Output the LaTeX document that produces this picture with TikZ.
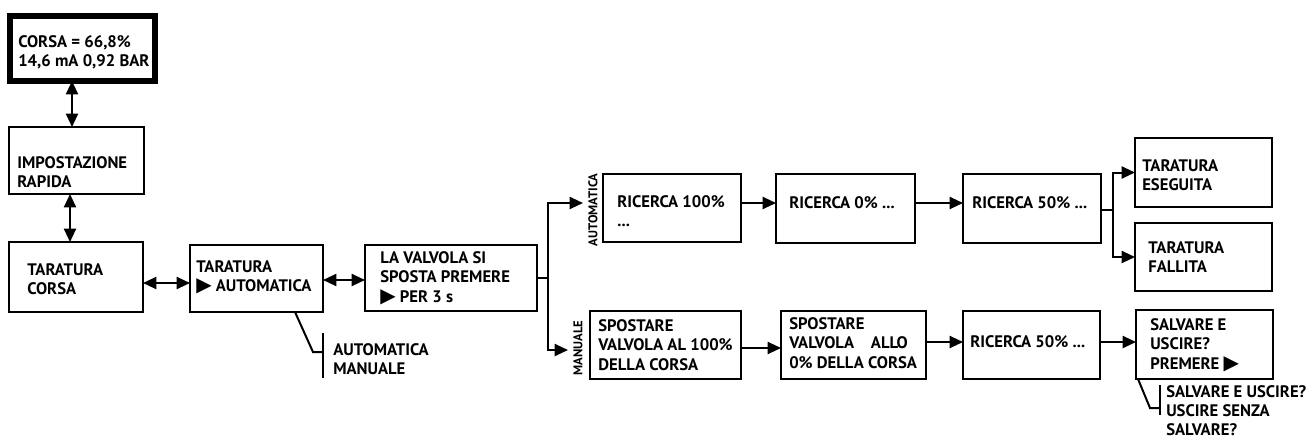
\documentclass[tikz,border=0pt]{standalone}
\usepackage{fontspec}
\setmainfont{PT Sans}
\newfontfamily\symf{DejaVu Sans}
\usetikzlibrary{arrows.meta}
\newcommand\tri{{\symf\fontsize{15}{14.8}\selectfont ▶}}
\newcommand\mkbox[6][]{\node[box,#1,anchor=north west,minimum width={(#5-#3)*0.75pt},minimum height={(#6-#4)*0.75pt}] (#2) at (#3,#4) {};}
\tikzset{
 box/.style={draw, line width=1.5pt, inner sep=0pt, outer sep=0pt},
 thickbox/.style={line width=3.8pt},
 txt/.style={font=\bfseries\fontsize{12.5}{14.6}\selectfont, align=left, inner sep=0pt, anchor=north west},
 vlab/.style={font=\bfseries\fontsize{9.5}{10}\selectfont, rotate=90, inner sep=0pt},
 ln/.style={line width=1.5pt},
 arr/.style={line width=1.5pt, -{Triangle[length=10pt,width=9pt]}},
 darr/.style={line width=1.5pt, {Triangle[length=10pt,width=9pt]}-{Triangle[length=10pt,width=9pt]}},
}
\begin{document}
\begin{tikzpicture}[x=0.75pt,y=-0.75pt]
\useasboundingbox (0,0) rectangle (1312,439);
% boxes
\mkbox[thickbox]{b1}{10}{16}{155}{81}
\mkbox{b2}{9}{127}{144}{194}
\mkbox{b3}{9}{242}{143}{312}
\mkbox{b4}{190}{245}{323}{312}
\mkbox{b5}{365}{245}{537}{311}
\mkbox{a1}{603}{174}{741}{242}
\mkbox{a2}{776}{174}{915}{243}
\mkbox{a3}{963}{174}{1101}{243}
\mkbox{e}{1135}{138}{1272}{207}
\mkbox{f}{1135}{223}{1272}{291}
\mkbox{m1}{590}{311}{741}{379}
\mkbox{m2}{781}{311}{926}{379}
\mkbox{m3}{963}{311}{1100}{379}
\mkbox{m4}{1136}{310}{1273}{379}
% texts
\node[txt] (tb1) at (18,35) {CORSA = 66,8\%\\14,6 mA 0,92 BAR};
\node[txt] (tb2) at (17,156) {IMPOSTAZIONE\\RAPIDA};
\node[txt] (tb3) at (27,263) {TARATURA\\CORSA};
\node[txt] (tb4) at (196,260) {TARATURA\\\tri\ AUTOMATICA};
\node[txt] (tb5) at (380,251) {LA VALVOLA SI\\SPOSTA PREMERE\\\tri\ PER 3 s};
\node[txt] (tc4) at (333,343) {AUTOMATICA\\MANUALE};
\node[txt] (ta1) at (617,195) {RICERCA 100\%\\...};
\node[txt] (ta2) at (789,196) {RICERCA 0\% ...};
\node[txt] (ta3) at (972,196) {RICERCA 50\% ...};
\node[txt] (te) at (1142,159) {TARATURA\\ESEGUITA};
\node[txt] (tf) at (1148,241) {TARATURA\\FALLITA};
\node[txt] (tm1) at (598,319) {SPOSTARE\\VALVOLA AL 100\%\\DELLA CORSA};
\node[txt] (tm2) at (789,317) {SPOSTARE\\VALVOLA\quad ALLO\\0\% DELLA CORSA};
\node[txt] (tm3) at (970,335) {RICERCA 50\% ...};
\node[txt] (tm4) at (1150,318) {SALVARE E\\USCIRE?\\PREMERE \tri};
\node[txt,font=\bfseries\fontsize{12.5}{14.2}\selectfont] (tcm4) at (1166,385) {SALVARE E USCIRE?\\USCIRE SENZA\\SALVARE?};
\node[vlab] (la) at (593,210) {AUTOMATICA};
\node[vlab] (lm) at (578,348) {MANUALE};
% coordinates
\coordinate (x72) at (72,0);
\coordinate (x70) at (70,0);
\coordinate (y283) at (0,283);
\coordinate (y280) at (0,280);
\coordinate (y203) at (0,203);
\coordinate (y348) at (0,348);
\coordinate (y342) at (0,342);
\coordinate (s5) at (548,278);
\coordinate (tA) at (583,203);
\coordinate (tM) at (568,350);
\coordinate (s3) at (1113,210);
% connectors
\draw[darr] (b1.south -| x72) -- (b2.north -| x72);
\draw[darr] (b2.south -| x70) -- (b3.north -| x70);
\draw[darr] (b3.east |- y283) -- (b4.west |- y283);
\draw[darr] (b4.east |- y280) -- (b5.west |- y280);
\draw[ln] (b5.east |- s5) -- (s5);
\draw[arr] (s5) |- (tA);
\draw[arr] (s5) |- (tM);
\draw[arr] (a1.east |- y203) -- (a2.west |- y203);
\draw[arr] (a2.east |- y203) -- (a3.west |- y203);
\draw[ln] (a3.east |- s3) -- (s3);
\draw[arr] (s3) |- (e.west);
\draw[arr] (s3) |- (f.west);
\draw[arr] (m1.east |- y348) -- (m2.west |- y348);
\draw[arr] (m2.east |- y342) -- (m3.west |- y342);
\draw[arr] (m3.east |- y342) -- (m4.west |- y342);
% callout brackets
\coordinate (k1) at (295,0);
\coordinate (k2) at (1138,0);
\draw[ln] (b4.south -| k1) -- (313,352) -- (323,352);
\draw[ln] (323,333) -- (323,378);
\draw[ln] (m4.south -| k2) -- (1150,408) -- (1160,408);
\draw[ln] (1160,385) -- (1160,415);
\end{tikzpicture}
\end{document}
